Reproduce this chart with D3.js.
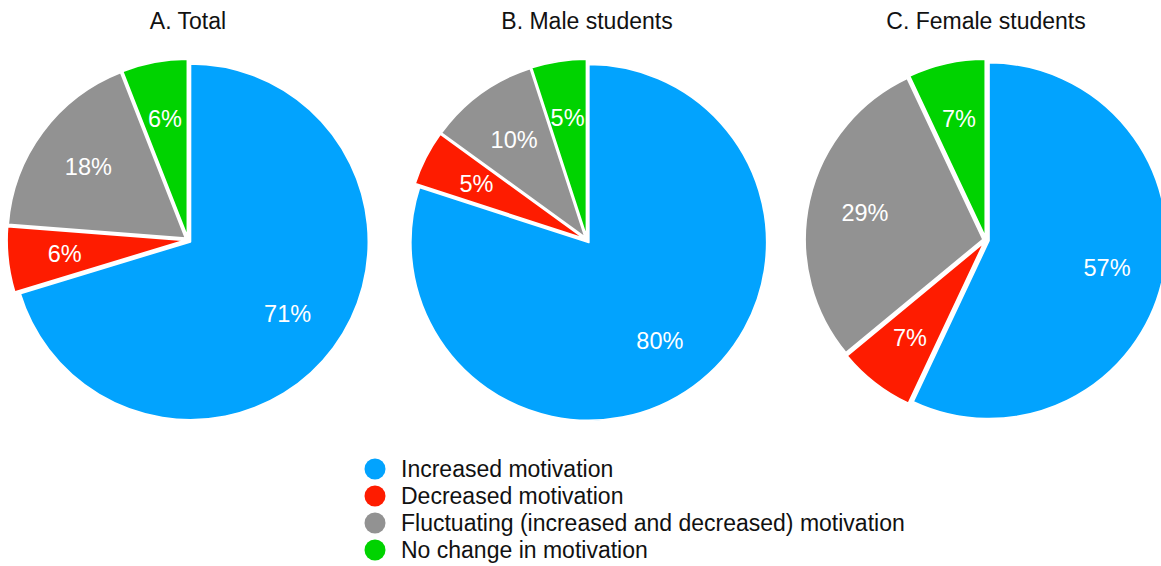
<!DOCTYPE html>
<html>
<head>
<meta charset="utf-8">
<script src="https://cdn.jsdelivr.net/npm/d3@7"></script>
<style>
  html, body { margin: 0; padding: 0; background: #fff; }
  svg { display: block; font-family: "Liberation Sans", Arial, Helvetica, sans-serif; }
</style>
</head>
<body>
<svg id="chart" width="1161" height="566"></svg>
<script>
// Response categories, in clockwise order starting at 12 o'clock
const categories = [
  "Increased motivation",
  "Decreased motivation",
  "Fluctuating (increased and decreased) motivation",
  "No change in motivation"
];
const categoryColors = ["#02a3fe", "#fe1c00", "#929292", "#00d300"];

// Panel titles
const panelTitles = ["A. Total", "B. Male students", "C. Female students"];

// Percentages per panel (same order as categories)
const totalValues  = [71, 6, 18, 6];
const maleValues   = [80, 5, 10, 5];
const femaleValues = [57, 7, 29, 7];
const panelValues = [totalValues, maleValues, femaleValues];

const svg = d3.select("#chart");

const color = d3.scaleOrdinal().domain(categories).range(categoryColors);
const xCenter = d3.scalePoint().domain(panelTitles).range([188, 986]);

const R = 178;
const labelR = 121;
const explode = 3;
const cy = 240;

const pie = d3.pie().sort(null).value(d => d.value);
const arc = d3.arc().innerRadius(0).outerRadius(R);
const labelArc = d3.arc().innerRadius(labelR).outerRadius(labelR);

panelTitles.forEach((title, i) => {
  const data = categories.map((c, j) => ({ category: c, value: panelValues[i][j] }));
  const arcs = pie(data);
  const cx = xCenter(title);

  const g = svg.append("g").attr("transform", `translate(${cx},${cy})`);

  // Each slice is pulled slightly outward along its mid-angle
  const slice = g.selectAll("g.slice").data(arcs).enter().append("g")
    .attr("class", "slice")
    .attr("transform", d => {
      const a = (d.startAngle + d.endAngle) / 2;
      return `translate(${Math.sin(a) * explode},${-Math.cos(a) * explode})`;
    });

  slice.append("path")
    .attr("d", arc)
    .attr("fill", d => color(d.data.category))
    .attr("stroke", "#fff")
    .attr("stroke-width", 1.8)
    .attr("stroke-linejoin", "round");

  slice.append("text")
    .attr("transform", d => `translate(${labelArc.centroid(d)})`)
    .attr("text-anchor", "middle")
    .attr("dy", "0.36em")
    .attr("fill", "#fff")
    .attr("font-size", 23.5)
    .text(d => d.data.value + "%");

  svg.append("text")
    .attr("x", cx)
    .attr("y", 29)
    .attr("text-anchor", "middle")
    .attr("font-size", 23)
    .attr("fill", "#111")
    .text(title);
});

// Legend
const legendY = d3.scalePoint().domain(categories).range([469, 550]);
const legend = svg.append("g");
const item = legend.selectAll("g").data(categories).enter().append("g")
  .attr("transform", d => `translate(375,${legendY(d)})`);
item.append("circle")
  .attr("r", 10.5)
  .attr("fill", d => color(d));
item.append("text")
  .attr("x", 26)
  .attr("dy", "0.36em")
  .attr("font-size", 23)
  .attr("fill", "#111")
  .text(d => d);
</script>
</body>
</html>
